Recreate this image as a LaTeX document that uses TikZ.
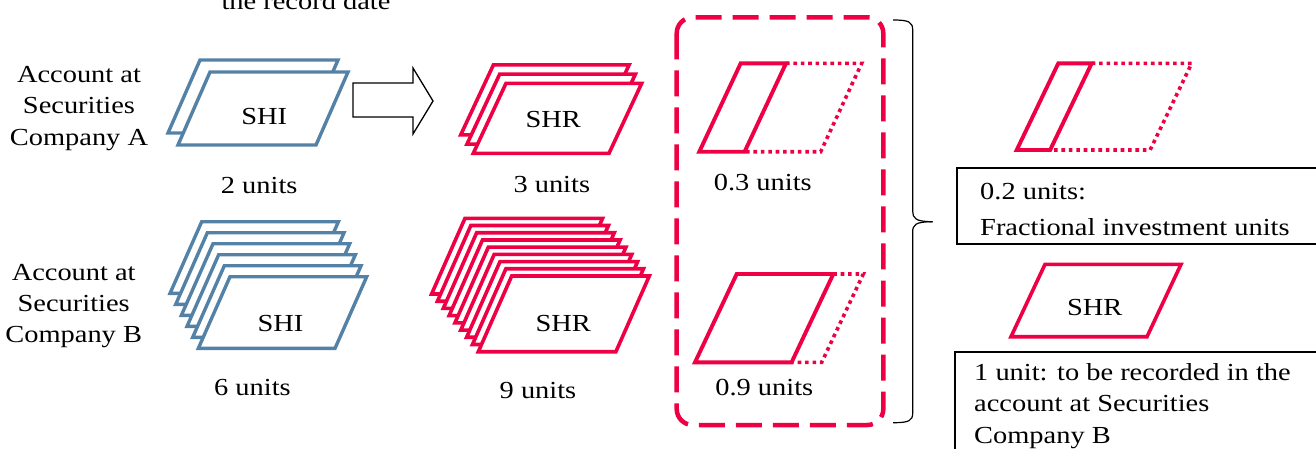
\documentclass[tikz,border=0pt]{standalone}
\usepackage{fontspec}
\setmainfont{Liberation Serif}[FakeStretch=1.16]
\definecolor{shiblue}{RGB}{84,130,166}
\definecolor{shrred}{RGB}{238,0,68}
\tikzset{
  shisheet/.style={draw=shiblue, line width=3.4pt, fill=white},
  shrsheet/.style={draw=shrred, line width=3.6pt, fill=white},
  fracsolid/.style={draw=shrred, line width=3.9pt},
  fracdot/.style={draw=shrred, line width=3.6pt, dash pattern=on 3.6pt off 3.8pt},
  lbl/.style={font=\fontsize{24.5}{31.3}\selectfont, inner sep=0pt},
  infobox/.style={draw=black, line width=1.8pt},
  dashbox/.style={draw=shrred, line width=4.5pt, dash pattern=on 26pt off 11pt, rounded corners=16pt},
}
% style, x, y, w, h, s  (x,y = top-left corner)
\newcommand\sheetpath[6]{\path[#1] (#2,#3) -- ++(#4,0) -- ++(-#6,#5) -- ++(-#4,0) -- cycle;}
% style, n-1, front x, front y, dx, dy, w, h, s
\newcommand\sheetstack[9]{\foreach \i in {#2,...,0}{\sheetpath{#1}{#3-\i*#5}{#4-\i*#6}{#7}{#8}{#9}}}
\begin{document}
\begin{tikzpicture}[x=1pt,y=-1pt]
\useasboundingbox (0,0) rectangle (1316,448);

% top cut-off text
\node[lbl, anchor=base] (rdate) at (306,9) {the record date};

% left labels (base = last line)
\node[lbl, anchor=base, align=center] (accA) at (79,145) {Account at\\Securities\\Company A};
\node[lbl, anchor=base, align=center] (accB) at (73.7,342.7) {Account at\\Securities\\Company B};

% SHI stacks
\sheetstack{shisheet}{1}{210}{72}{10}{12}{138}{73}{32}
\node[lbl, anchor=base] (shiA) at (264.2,124) {SHI};
\node[lbl, anchor=base] (uA) at (259.2,193) {2 units};

\sheetstack{shisheet}{5}{230}{276.7}{5.66}{11}{136.7}{71.7}{31.7}
\node[lbl, anchor=base] (shiB) at (280.5,331.7) {SHI};
\node[lbl, anchor=base] (uB) at (252.5,395.7) {6 units};

% block arrow
\draw[line width=1.3pt, fill=white] (353,83) -- (413,83) -- (413,68) -- (433,101) -- (413,134) -- (413,117) -- (353,117) -- cycle;

% SHR stacks
\sheetstack{shrsheet}{2}{506}{83.3}{6.3}{9.2}{135.7}{70}{32.7}
\node[lbl, anchor=base] (shrA) at (553.3,127.3) {SHR};
\node[lbl, anchor=base] (uA3) at (551.8,192.7) {3 units};

\sheetstack{shrsheet}{8}{511.7}{276}{5.84}{7.21}{137.6}{75.7}{33.4}
\node[lbl, anchor=base] (shrB) at (563.3,331.7) {SHR};
\node[lbl, anchor=base] (uB9) at (538,398.3) {9 units};

% dashed rounded box
\draw[dashbox] (676.7,17.3) rectangle (883.3,425);

% fractions inside dashed box
\draw[fracdot] (786,63.3) -- (861.7,63.3) -- (820.7,151.7) -- (746,151.7);
\sheetpath{fracsolid}{740.7}{63.3}{45.3}{88.4}{41.4}
\node[lbl, anchor=base] (f03) at (762.8,190) {0.3 units};

\draw[fracdot] (833.3,274) -- (863.3,274) -- (821.7,362.3) -- (793.3,362.3);
\sheetpath{fracsolid}{736.7}{274}{96.6}{88.3}{41.7}
\node[lbl, anchor=base] (f09) at (764.3,395) {0.9 units};

% brace
\draw[line width=1.2pt] (893,20) .. controls (909,20) and (912.7,22) .. (912.7,30) -- (912.7,211)
  .. controls (912.7,218) and (915,221.7) .. (932.7,221.7);
\draw[line width=1.2pt] (932.7,221.7) .. controls (915,221.7) and (912.7,225) .. (912.7,232) -- (912.7,413)
  .. controls (912.7,420.7) and (909,422.7) .. (893,422.7);

% right side
\draw[fracdot] (1091.7,63.3) -- (1191.7,63.3) -- (1150.1,150) -- (1050.1,150);
\sheetpath{fracsolid}{1058.3}{63.3}{33.4}{86.7}{41.6}

\draw[infobox] (957.3,167.7) rectangle (1330,244.3);
\node[lbl, anchor=base west, align=left] (t02a) at (980,199) {0.2 units:};
\node[lbl, anchor=base west, align=left] (t02b) at (980,235.5) {Fractional investment units};

\sheetpath{shrsheet}{1045}{264.3}{136}{72.4}{34}
\node[lbl, anchor=base] (shrR) at (1094.7,315) {SHR};

\draw[infobox] (955,351.7) rectangle (1330,470);
\node[lbl, anchor=base west] (t1a) at (974,380) {1 unit: to be recorded in the};
\node[lbl, anchor=base west] (t1b) at (974,411.7) {account at Securities};
\node[lbl, anchor=base west] (t1c) at (974,443) {Company B};
\end{tikzpicture}
\end{document}
